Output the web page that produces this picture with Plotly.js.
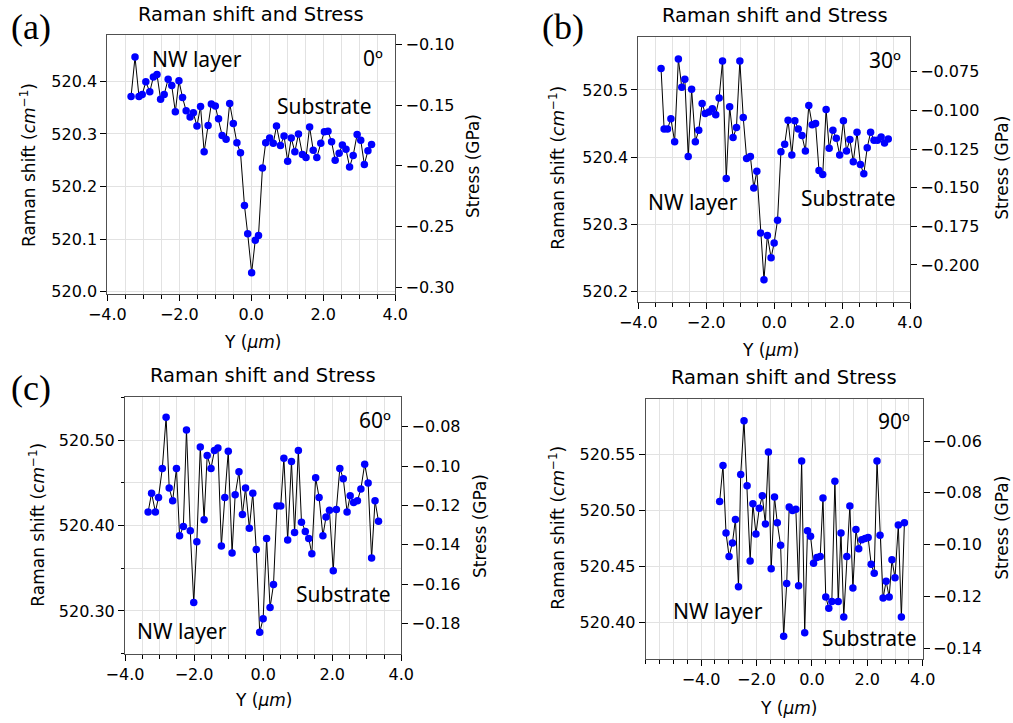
<!DOCTYPE html>
<html><head><meta charset="utf-8">
<script src="https://cdn.plot.ly/plotly-3.0.1.min.js"></script>
<style>html,body{margin:0;padding:0;background:#fff}#chart{width:1013px;height:723px}</style>
</head><body><div id="chart"></div>
<script>
// ---- Data ----
const X_A = [-3.34,-3.23,-3.12,-3.03,-2.93,-2.82,-2.72,-2.62,-2.52,-2.42,-2.31,-2.21,-2.11,-2.01,-1.91,-1.81,-1.70,-1.61,-1.51,-1.41,-1.31,-1.20,-1.11,-1.00,-0.91,-0.81,-0.70,-0.60,-0.50,-0.40,-0.30,-0.19,-0.10,0.01,0.11,0.20,0.31,0.40,0.51,0.61,0.70,0.81,0.91,1.01,1.11,1.21,1.31,1.42,1.52,1.62,1.72,1.82,1.93,2.03,2.13,2.23,2.33,2.44,2.53,2.63,2.73,2.83,2.94,3.04,3.14,3.24,3.34];
const RAMAN_A = [520.371,520.446,520.371,520.375,520.399,520.380,520.408,520.413,520.366,520.375,520.404,520.392,520.342,520.401,520.369,520.344,520.332,520.340,520.315,520.352,520.266,520.316,520.357,520.353,520.329,520.297,520.290,520.358,520.320,520.283,520.264,520.164,520.110,520.036,520.098,520.107,520.235,520.283,520.292,520.282,520.315,520.278,520.296,520.248,520.292,520.266,520.300,520.261,520.255,520.313,520.269,520.255,520.282,520.304,520.305,520.285,520.250,520.263,520.279,520.271,520.237,520.259,520.299,520.288,520.242,520.268,520.280];

const X_B = [-3.33,-3.24,-3.14,-3.04,-2.93,-2.82,-2.72,-2.63,-2.53,-2.43,-2.32,-2.22,-2.12,-2.03,-1.92,-1.82,-1.72,-1.62,-1.52,-1.41,-1.31,-1.21,-1.11,-1.01,-0.91,-0.81,-0.70,-0.60,-0.51,-0.40,-0.30,-0.20,-0.09,0.00,0.10,0.20,0.31,0.41,0.52,0.61,0.71,0.82,0.92,1.02,1.12,1.22,1.32,1.43,1.53,1.62,1.73,1.83,1.93,2.04,2.13,2.23,2.33,2.44,2.54,2.64,2.74,2.84,2.94,3.04,3.15,3.25,3.36];
const RAMAN_B = [520.532,520.442,520.442,520.457,520.423,520.546,520.504,520.516,520.401,520.501,520.423,520.440,520.480,520.465,520.467,520.472,520.463,520.488,520.543,520.368,520.475,520.429,520.444,520.543,520.459,520.398,520.401,520.354,520.379,520.287,520.217,520.283,520.250,520.272,520.306,520.408,520.419,520.455,520.403,520.454,520.442,520.432,520.409,520.477,520.448,520.450,520.380,520.374,520.471,520.413,520.440,520.428,520.403,520.454,520.409,520.426,520.393,520.437,520.389,520.375,520.414,520.437,520.425,520.425,520.430,520.421,520.427];

const X_C = [-3.33,-3.23,-3.12,-3.03,-2.92,-2.81,-2.72,-2.62,-2.51,-2.42,-2.31,-2.22,-2.11,-2.01,-1.92,-1.82,-1.71,-1.62,-1.51,-1.41,-1.31,-1.21,-1.11,-1.01,-0.90,-0.81,-0.70,-0.60,-0.51,-0.40,-0.30,-0.20,-0.10,0.00,0.10,0.20,0.30,0.40,0.51,0.60,0.71,0.82,0.91,1.02,1.11,1.22,1.32,1.41,1.52,1.62,1.73,1.82,1.92,2.03,2.12,2.22,2.32,2.43,2.52,2.62,2.73,2.83,2.94,3.04,3.14,3.24,3.34];
const RAMAN_C = [520.416,520.438,520.416,520.433,520.467,520.527,520.444,520.429,520.467,520.388,520.399,520.512,520.394,520.310,520.381,520.492,520.407,520.482,520.467,520.488,520.491,520.376,520.433,520.487,520.368,520.436,520.463,520.413,520.444,520.397,520.438,520.372,520.275,520.291,520.385,520.304,520.331,520.423,520.423,520.479,520.383,520.475,520.392,520.488,520.404,520.393,520.385,520.367,520.456,520.433,520.388,520.410,520.418,520.347,520.419,520.467,520.455,520.416,520.435,520.427,520.429,520.443,520.472,520.450,520.362,520.429,520.405];

const X_D = [-3.33,-3.21,-3.10,-2.99,-2.87,-2.76,-2.65,-2.57,-2.45,-2.34,-2.23,-2.13,-2.02,-1.90,-1.79,-1.68,-1.57,-1.47,-1.35,-1.25,-1.13,-1.02,-0.91,-0.82,-0.70,-0.58,-0.48,-0.37,-0.26,-0.16,-0.05,0.06,0.18,0.30,0.40,0.50,0.61,0.72,0.83,0.95,1.05,1.15,1.26,1.37,1.48,1.59,1.69,1.80,1.92,2.03,2.14,2.25,2.35,2.46,2.57,2.68,2.79,2.89,3.00,3.12,3.23,3.34];
const RAMAN_D = [520.508,520.540,520.480,520.459,520.471,520.492,520.432,520.532,520.580,520.522,520.455,520.506,520.479,520.502,520.513,520.488,520.552,520.448,520.512,520.489,520.469,520.388,520.435,520.503,520.500,520.501,520.433,520.544,520.391,520.482,520.477,520.453,520.458,520.459,520.511,520.423,520.413,520.419,520.526,520.419,520.480,520.405,520.459,520.504,520.431,520.483,520.466,520.474,520.475,520.476,520.452,520.444,520.544,520.478,520.422,520.437,520.423,520.456,520.440,520.487,520.405,520.489];

const X_TICKS = [-4, -2, 0, 2, 4];
const PANEL_LETTERS = ['(a)', '(b)', '(c)', ''];
const ANGLES = ['0º', '30º', '60º', '90º'];
const TITLE = 'Raman shift and Stress';
const Y_TITLE = 'Raman shift (<i>cm</i><sup>−1</sup>)';
const Y2_TITLE = 'Stress (GPa)';
const X_TITLE = 'Y (<i>µm</i>)';
const NW_LABEL = 'NW layer';
const SUB_LABEL = 'Substrate';

// Si stress conversion: stress (GPa) = 0.434 * (omega - 520.7)
const STRESS_COEF = 0.434, OMEGA_0 = 520.7;
const toStress = w => STRESS_COEF * (w - OMEGA_0);

// ---- Layout helpers ----
const W = 1013, H = 723;
const fx = x => x / W, fy = y => 1 - y / H;

const panels = [
  {x: X_A, y: RAMAN_A, dom: [107.3, 395.3, 35, 293.5], xr: [-4, 4], yr: [519.9966, 520.488], ydt: 0.1, yfmt: '.1f', sdt: 0.05, sfmt: '.2f', yminor: false,
   title: [251.3, 14], yl: [28, 165], y2l: [473, 166], xl: [252.7, 341.7], letter: [31, 27],
   ang: [373.3, 58], nw: [196.5, 59.3], sub: [324.8, 106]},
  {x: X_B, y: RAMAN_B, dom: [638.3, 910, 37.3, 302], xr: [-4, 4], yr: [520.184, 520.5785], ydt: 0.1, yfmt: '.1f', sdt: 0.025, sfmt: '.3f', yminor: false,
   title: [774.7, 15], yl: [556.7, 168], y2l: [1001.7, 168], xl: [770, 350], letter: [563.3, 27.5],
   ang: [884.7, 60], nw: [693.3, 201.7], sub: [848.8, 198.3]},
  {x: X_C, y: RAMAN_C, dom: [125, 401.3, 396.7, 654], xr: [-4, 4], yr: [520.2496, 520.551], ydt: 0.1, yfmt: '.2f', sdt: 0.02, sfmt: '.2f', yminor: true,
   title: [263.2, 375], yl: [36.7, 525], y2l: [480, 526], xl: [263.3, 700], letter: [30.5, 388.3],
   ang: [375.3, 420], nw: [182.2, 630.7], sub: [343.8, 594.3]},
  {x: X_D, y: RAMAN_D, dom: [645.7, 922.7, 399.3, 659], xr: [-6, 4], yr: [520.3677, 520.599], ydt: 0.05, yfmt: '.2f', sdt: 0.02, sfmt: '.2f', yminor: false,
   title: [784.3, 377.3], yl: [556.7, 528], y2l: [1001.7, 528], xl: [788.3, 708.3], letter: null,
   ang: [894, 420.7], nw: [717.8, 610.7], sub: [869.3, 638.3]}
];

const FRAME = '#505050', GRID = '#e2e2e2';
const tickFont = {family: 'DejaVu Sans', size: 16, color: '#000'};
const labelFont = {family: 'DejaVu Sans', size: 17, color: '#000'};
const noteFont = {family: 'Noto Sans', size: 21, color: '#000'};

const traces = [];
const layout = {
  width: W, height: H, margin: {l: 0, r: 0, t: 0, b: 0},
  paper_bgcolor: '#fff', plot_bgcolor: '#fff', showlegend: false,
  annotations: []
};

panels.forEach((p, i) => {
  const xa = i === 0 ? 'x' : 'x' + (i + 1);
  const ya = 'y' + (2 * i + 1 === 1 ? '' : (2 * i + 1));
  const ya2 = 'y' + (2 * i + 2);
  const xKey = 'xaxis' + (i === 0 ? '' : (i + 1));
  const yKey = 'yaxis' + (2 * i + 1 === 1 ? '' : (2 * i + 1));
  const y2Key = 'yaxis' + (2 * i + 2);

  traces.push({
    x: p.x, y: p.y, xaxis: xa, yaxis: ya, type: 'scatter', mode: 'lines+markers',
    line: {color: '#000', width: 1}, marker: {color: '#0000ff', size: 7.5},
    hoverinfo: 'skip'
  });
  traces.push({
    x: p.x, y: p.y.map(toStress), xaxis: xa, yaxis: ya2, type: 'scatter', mode: 'lines',
    opacity: 0, line: {width: 0}, hoverinfo: 'skip'
  });

  layout[xKey] = {
    domain: [fx(p.dom[0]), fx(p.dom[1])], anchor: ya, range: p.xr,
    tickmode: 'array', tickvals: X_TICKS, tickformat: '.1f', ticks: 'outside', ticklen: 6, tickcolor: '#000',
    tickfont: tickFont, showline: true, linecolor: FRAME, linewidth: 1, mirror: true,
    showgrid: true, gridcolor: GRID, gridwidth: 1, zeroline: false,
    minor: {tickmode: 'linear', dtick: 0.5, tick0: 0, ticks: 'outside', ticklen: 4, tickcolor: '#000', showgrid: true, gridcolor: GRID, gridwidth: 1}
  };
  const yAx = {
    domain: [fy(p.dom[3]), fy(p.dom[2])], anchor: xa, range: p.yr,
    dtick: p.ydt, tick0: 0, tickformat: p.yfmt, ticks: 'outside', ticklen: 6, tickcolor: '#000',
    tickfont: tickFont, showline: true, linecolor: FRAME, linewidth: 1, mirror: true,
    showgrid: true, gridcolor: GRID, gridwidth: 1, zeroline: false
  };
  if (p.yminor) yAx.minor = {dtick: p.ydt / 2, tick0: 0, ticks: 'outside', ticklen: 3.5, tickcolor: '#000', showgrid: true, gridcolor: GRID, gridwidth: 1};
  layout[yKey] = yAx;
  layout[y2Key] = {
    overlaying: ya, side: 'right', anchor: xa, range: [toStress(p.yr[0]), toStress(p.yr[1])],
    dtick: p.sdt, tick0: 0, tickformat: p.sfmt, ticks: 'outside', ticklen: 6, tickcolor: '#000',
    tickfont: tickFont, showline: true, linecolor: FRAME, linewidth: 1,
    showgrid: false, zeroline: false
  };

  const A = layout.annotations;
  const ann = (pos, text, font, extra) => A.push(Object.assign({
    xref: 'paper', yref: 'paper', x: fx(pos[0]), y: fy(pos[1]), text: text,
    showarrow: false, xanchor: 'center', yanchor: 'middle', font: font
  }, extra || {}));
  ann(p.title, TITLE, {family: 'DejaVu Sans', size: 19.5, color: '#000'});
  ann(p.yl, Y_TITLE, labelFont, {textangle: -90});
  ann(p.y2l, Y2_TITLE, labelFont, {textangle: -90});
  ann(p.xl, X_TITLE, labelFont);
  if (p.letter) ann(p.letter, PANEL_LETTERS[i], {family: 'Liberation Serif', size: 36, color: '#000'});
  ann(p.ang, ANGLES[i], noteFont);
  ann(p.nw, NW_LABEL, noteFont);
  ann(p.sub, SUB_LABEL, noteFont);
});

Plotly.newPlot('chart', traces, layout, {staticPlot: true, displayModeBar: false});
</script>
</body></html>
